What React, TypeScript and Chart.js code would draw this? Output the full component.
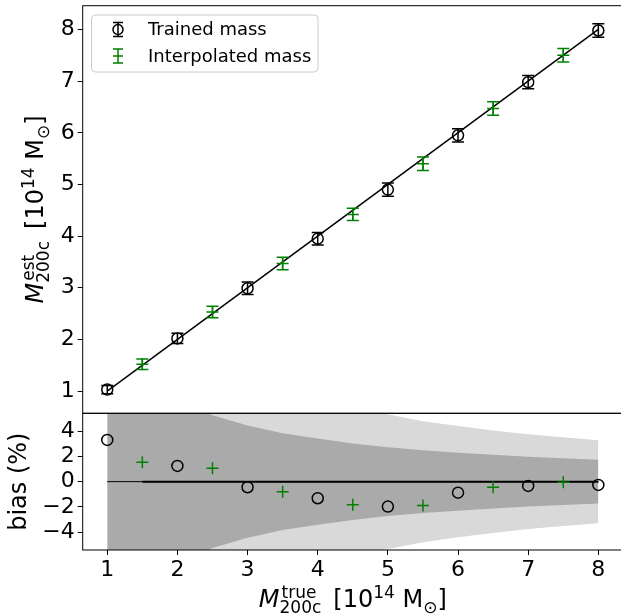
import React, { useEffect, useRef } from 'react';
import { Chart, registerables } from 'chart.js';

// ---------- data ----------
const TRUE_TRAINED = [1, 2, 3, 4, 5, 6, 7, 8];
const EST_TRAINED = [1.03, 2.02, 2.99, 3.95, 4.9, 5.95, 6.98, 7.98];
const ERR_TRAINED = [0.08, 0.1, 0.12, 0.12, 0.13, 0.13, 0.13, 0.13];
const BIAS_TRAINED = [3.3, 1.24, -0.44, -1.31, -1.97, -0.87, -0.34, -0.26];

const TRUE_INTERP = [1.5, 2.5, 3.5, 4.5, 5.5, 6.5, 7.5];
const EST_INTERP = [1.52, 2.53, 3.47, 4.42, 5.4, 6.47, 7.5];
const ERR_INTERP = [0.1, 0.11, 0.12, 0.12, 0.13, 0.13, 0.13];
const BIAS_INTERP = [1.53, 1.06, -0.79, -1.82, -1.89, -0.44, -0.05];

const ONE_TO_ONE_X = [1, 8];
const ONE_TO_ONE_Y = [1, 8];
const ZERO_X = [1, 8];
const ZERO_X_INTERP = [1.5, 8];
const ZERO_Y = [0, 0];

const BAND_X = [1, 1.5, 2, 2.5, 3, 3.5, 4, 4.5, 5, 5.5, 6, 6.5, 7, 7.5, 8];
const BAND_INNER_HI = [12.5, 8.5, 6.5, 5.25, 4.43, 3.82, 3.4, 3.02, 2.72, 2.48, 2.29, 2.12, 1.97, 1.85, 1.74];
const BAND_INNER_LO = [-12.5, -8.5, -6.5, -5.25, -4.43, -3.82, -3.4, -3.02, -2.72, -2.48, -2.29, -2.12, -1.97, -1.85, -1.72];
const BAND_OUTER_HI = [24, 16.5, 12.6, 10.2, 8.6, 7.4, 6.5, 5.85, 5.33, 4.78, 4.4, 4.05, 3.75, 3.5, 3.27];
const BAND_OUTER_LO = [-24, -16.5, -12.6, -10.2, -8.6, -7.4, -6.5, -5.85, -5.33, -4.78, -4.4, -4.05, -3.75, -3.5, -3.29];

const X_TICKS = [1, 2, 3, 4, 5, 6, 7, 8];
const Y_TICKS = [1, 2, 3, 4, 5, 6, 7, 8];
const BIAS_TICKS = [-4, -2, 0, 2, 4];
const LEGEND_LABELS = ['Trained mass', 'Interpolated mass'];

// ---------- styles ----------
const GREEN = '#008000';
const DARK = '#aaaaaa';
const LIGHT = '#d9d9d9';
const FAMILY = '"DejaVu Sans"';
const TICK_SIZE = 22;
const TITLE_SIZE = 24;
const SCRIPT_SIZE = 17;

const pts = (xs: number[], ys: number[]) => xs.map((x, i) => ({ x, y: ys[i] }));

// clip each dataset to the panel of its own y axis
const panelClip = {
  id: 'panelClip',
  beforeDatasetDraw(chart: any, args: any) {
    const ys = chart.scales[args.meta.yAxisID];
    const a = chart.chartArea;
    const ctx = chart.ctx;
    ctx.save();
    ctx.beginPath();
    ctx.rect(a.left, ys.top, a.right - a.left, ys.bottom - ys.top);
    ctx.clip();
  },
  afterDatasetDraw(chart: any) {
    chart.ctx.restore();
  },
};

Chart.register(panelClip);
Chart.register(...registerables);

type Seg = { t?: string; it?: boolean; sup?: string; sub?: string; gap?: number };
const fnt = (size: number, it?: boolean) => `${it ? 'italic ' : ''}${size}px ${FAMILY}`;

function segW(ctx: CanvasRenderingContext2D, s: Seg) {
  if (s.gap) return s.gap;
  if (s.t) {
    ctx.font = fnt(TITLE_SIZE, s.it);
    return ctx.measureText(s.t).width;
  }
  ctx.font = fnt(SCRIPT_SIZE);
  let w = 0;
  if (s.sup) w = Math.max(w, ctx.measureText(s.sup).width);
  if (s.sub) w = Math.max(w, ctx.measureText(s.sub).width);
  return w;
}

function drawMath(ctx: CanvasRenderingContext2D, segs: Seg[], cx: number, baseline: number, rot: number) {
  ctx.save();
  ctx.translate(cx, baseline);
  ctx.rotate(rot);
  ctx.fillStyle = '#000';
  ctx.textAlign = 'left';
  ctx.textBaseline = 'alphabetic';
  const ws = segs.map((s) => segW(ctx, s));
  const total = ws.reduce((a, b) => a + b, 0);
  let x = -total / 2;
  segs.forEach((s, i) => {
    if (s.t) {
      ctx.font = fnt(TITLE_SIZE, s.it);
      ctx.fillText(s.t, x, 0);
    } else if (!s.gap) {
      ctx.font = fnt(SCRIPT_SIZE);
      if (s.sup) ctx.fillText(s.sup, x + (i > 0 && segs[i - 1].it ? 2 : 0), -9);
      if (s.sub) ctx.fillText(s.sub, x, 6);
    }
    x += ws[i];
  });
  ctx.restore();
}

function errorBars(ctx: CanvasRenderingContext2D, xs: any, ys: any, xv: number[], yv: number[], ev: number[], color: string) {
  ctx.save();
  ctx.strokeStyle = color;
  ctx.lineWidth = 1.5;
  xv.forEach((xx, i) => {
    const px = xs.getPixelForValue(xx);
    const p1 = ys.getPixelForValue(yv[i] - ev[i]);
    const p2 = ys.getPixelForValue(yv[i] + ev[i]);
    ctx.beginPath();
    ctx.moveTo(px, p1);
    ctx.lineTo(px, p2);
    ctx.moveTo(px - 6, p1);
    ctx.lineTo(px + 6, p1);
    ctx.moveTo(px - 6, p2);
    ctx.lineTo(px + 6, p2);
    ctx.stroke();
  });
  ctx.restore();
}

const decor = {
  id: 'decor',
  afterDatasetsDraw(chart: any) {
    const ctx = chart.ctx as CanvasRenderingContext2D;
    const { x, y } = chart.scales;
    errorBars(ctx, x, y, TRUE_TRAINED, EST_TRAINED, ERR_TRAINED, '#000');
    errorBars(ctx, x, y, TRUE_INTERP, EST_INTERP, ERR_INTERP, GREEN);
  },
  afterDraw(chart: any) {
    const ctx = chart.ctx as CanvasRenderingContext2D;
    const a = chart.chartArea;
    const { y, y2 } = chart.scales;
    // spines
    ctx.save();
    ctx.strokeStyle = '#000';
    ctx.lineWidth = 1;
    ctx.strokeRect(a.left, y.top, a.right - a.left, y.bottom - y.top);
    ctx.strokeRect(a.left, y2.top, a.right - a.left, y2.bottom - y2.top);
    ctx.restore();

    // legend
    ctx.save();
    ctx.beginPath();
    (ctx as any).roundRect(91.5, 15, 226.5, 57, 4);
    ctx.fillStyle = 'rgba(255,255,255,0.8)';
    ctx.fill();
    ctx.strokeStyle = '#cccccc';
    ctx.lineWidth = 1;
    ctx.stroke();
    const gx = 118;
    const rows = [29.5, 56];
    // trained glyph
    ctx.lineWidth = 1.5;
    ctx.strokeStyle = '#000';
    ctx.beginPath();
    ctx.moveTo(gx, rows[0] - 7);
    ctx.lineTo(gx, rows[0] + 7);
    ctx.moveTo(gx - 5, rows[0] - 7);
    ctx.lineTo(gx + 5, rows[0] - 7);
    ctx.moveTo(gx - 5, rows[0] + 7);
    ctx.lineTo(gx + 5, rows[0] + 7);
    ctx.stroke();
    ctx.beginPath();
    ctx.arc(gx, rows[0], 5, 0, Math.PI * 2);
    ctx.stroke();
    // interpolated glyph
    ctx.strokeStyle = GREEN;
    ctx.beginPath();
    ctx.moveTo(gx, rows[1] - 7);
    ctx.lineTo(gx, rows[1] + 7);
    ctx.moveTo(gx - 5, rows[1] - 7);
    ctx.lineTo(gx + 5, rows[1] - 7);
    ctx.moveTo(gx - 5, rows[1] + 7);
    ctx.lineTo(gx + 5, rows[1] + 7);
    ctx.moveTo(gx - 5, rows[1]);
    ctx.lineTo(gx + 5, rows[1]);
    ctx.stroke();
    ctx.fillStyle = '#000';
    ctx.font = fnt(18);
    ctx.textAlign = 'left';
    ctx.textBaseline = 'middle';
    ctx.fillText(LEGEND_LABELS[0], 148, rows[0] + 1);
    ctx.fillText(LEGEND_LABELS[1], 148, rows[1] + 1);
    ctx.restore();

    // axis titles
    const cxTitle = (a.left + a.right) / 2;
    drawMath(
      ctx,
      [{ t: 'M', it: true }, { sup: 'true', sub: '200c' }, { gap: 12 }, { t: '[10' }, { sup: '14' }, { t: ' M' }, { sub: '\u2299' }, { t: ']' }],
      cxTitle,
      607,
      0
    );
    drawMath(
      ctx,
      [{ t: 'M', it: true }, { sup: 'est', sub: '200c' }, { gap: 12 }, { t: '[10' }, { sup: '14' }, { t: ' M' }, { sub: '\u2299' }, { t: ']' }],
      43,
      (y.top + y.bottom) / 2,
      -Math.PI / 2
    );
    drawMath(ctx, [{ t: 'bias (%)' }], 26, (y2.top + y2.bottom) / 2, -Math.PI / 2);
  },
};

const tickFont = { family: FAMILY, size: TICK_SIZE };
const fmt = (v: number) => (v < 0 ? '\u2212' + Math.abs(v) : String(v));

function zeroPad(s: any) {
  s.paddingTop = 0;
  s.paddingBottom = 0;
  s.paddingLeft = 0;
  s.paddingRight = 0;
}

export default function App() {
  const ref = useRef<HTMLCanvasElement>(null);
  useEffect(() => {
    const ctx = ref.current!;
    const lineDs = (data: any, yAxisID: string, color: string, width: number, order: number) => ({
      data,
      yAxisID,
      borderColor: color,
      borderWidth: width,
      pointRadius: 0,
      fill: false,
      order,
    });
    const bandDs = (data: any, color: string, fill: any, order: number) => ({
      data,
      yAxisID: 'y2',
      borderWidth: 0,
      borderColor: 'rgba(0,0,0,0)',
      backgroundColor: color,
      pointRadius: 0,
      fill,
      order,
    });
    const tickOpts = { font: tickFont, color: '#000', autoSkip: false, maxRotation: 0, callback: (v: any) => fmt(Number(v)) };
    const gridOpts = { drawOnChartArea: false, drawTicks: true, tickLength: 5, color: '#000', lineWidth: 1 };
    const chart = new Chart(ctx, {
      type: 'line',
      data: {
        datasets: [
          {
            data: pts(TRUE_TRAINED, EST_TRAINED),
            yAxisID: 'y',
            showLine: false,
            pointStyle: 'circle',
            pointRadius: 5.5,
            pointBorderWidth: 1.5,
            pointBorderColor: '#000',
            pointBackgroundColor: 'rgba(0,0,0,0)',
            order: 0,
          },
          {
            data: pts(TRUE_INTERP, EST_INTERP),
            yAxisID: 'y',
            showLine: false,
            pointStyle: 'cross',
            pointRadius: 6,
            pointBorderWidth: 1.5,
            pointBorderColor: GREEN,
            order: 0,
          },
          lineDs(pts(ONE_TO_ONE_X, ONE_TO_ONE_Y), 'y', '#000', 1.5, 2),
          {
            data: pts(TRUE_TRAINED, BIAS_TRAINED),
            yAxisID: 'y2',
            showLine: false,
            pointStyle: 'circle',
            pointRadius: 5.5,
            pointBorderWidth: 1.5,
            pointBorderColor: '#000',
            pointBackgroundColor: 'rgba(0,0,0,0)',
            order: 0,
          },
          {
            data: pts(TRUE_INTERP, BIAS_INTERP),
            yAxisID: 'y2',
            showLine: false,
            pointStyle: 'cross',
            pointRadius: 6,
            pointBorderWidth: 1.5,
            pointBorderColor: GREEN,
            order: 0,
          },
          lineDs(pts(ZERO_X, ZERO_Y), 'y2', '#000', 1, 2),
          lineDs(pts(ZERO_X_INTERP, ZERO_Y), 'y2', '#000', 2, 2),
          bandDs(pts(BAND_X, BAND_INNER_HI), DARK, '+1', 3),
          bandDs(pts(BAND_X, BAND_INNER_LO), DARK, false, 3),
          bandDs(pts(BAND_X, BAND_OUTER_HI), LIGHT, '+1', 4),
          bandDs(pts(BAND_X, BAND_OUTER_LO), LIGHT, false, 4),
        ],
      },
      options: {
        responsive: false,
        animation: false,
        devicePixelRatio: 1,
        events: [],
        layout: { padding: { top: 5.7, left: 0, right: 1.1, bottom: 0 }, autoPadding: false },
        plugins: {
          legend: { display: false },
          tooltip: { enabled: false },
          filler: { propagate: false, drawTime: 'beforeDatasetDraw' },
        },
        scales: {
          x: {
            type: 'linear',
            position: 'bottom',
            min: 0.65,
            max: 8.35,
            afterBuildTicks: (s: any) => {
              s.ticks = X_TICKS.map((v) => ({ value: v }));
            },
            afterFit: (s: any) => {
              s.height = 66;
              zeroPad(s);
            },
            ticks: { ...tickOpts, padding: 2 },
            grid: gridOpts,
            border: { display: false },
          },
          y: {
            type: 'linear',
            position: 'left',
            stack: 'panels',
            stackWeight: 407.6,
            weight: 1,
            min: 0.57,
            max: 8.46,
            afterBuildTicks: (s: any) => {
              s.ticks = Y_TICKS.map((v) => ({ value: v }));
            },
            afterFit: (s: any) => {
              s.width = 82.7;
              zeroPad(s);
            },
            ticks: { ...tickOpts, padding: 3 },
            grid: gridOpts,
            border: { display: false },
          },
          y2: {
            type: 'linear',
            position: 'left',
            stack: 'panels',
            stackWeight: 136.7,
            weight: 0,
            min: -5.4,
            max: 5.4,
            afterBuildTicks: (s: any) => {
              s.ticks = BIAS_TICKS.map((v) => ({ value: v }));
            },
            afterFit: (s: any) => {
              s.width = 82.7;
              zeroPad(s);
            },
            ticks: { ...tickOpts, padding: 3 },
            grid: gridOpts,
            border: { display: false },
          },
        },
      } as any,
      plugins: [decor],
    } as any);
    return () => chart.destroy();
  }, []);
  return (
    <div style={{ position: 'absolute', left: 0, top: 0, width: 621, height: 616, overflow: 'hidden', background: '#fff' }}>
      <canvas ref={ref} width={624} height={616} style={{ display: 'block', width: 624, height: 616 }} />
    </div>
  );
}
